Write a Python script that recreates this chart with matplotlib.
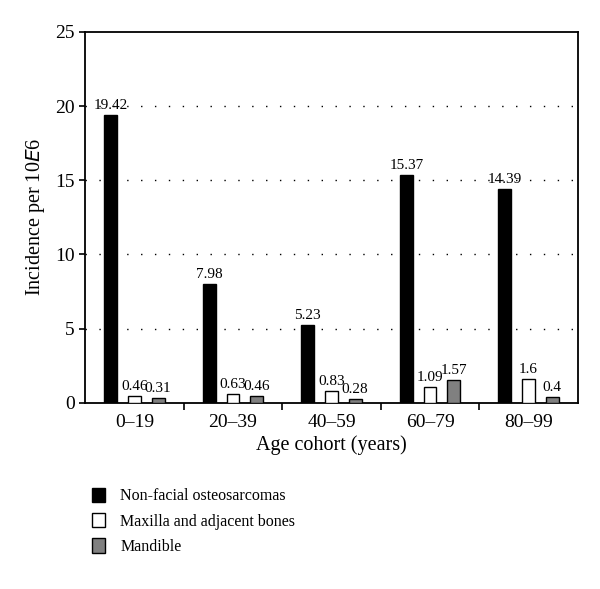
import matplotlib.pyplot as plt
import numpy as np
from matplotlib.patches import Patch

categories = ["0–19", "20–39", "40–59", "60–79", "80–99"]
series_names = ["Non-facial osteosarcomas", "Maxilla and adjacent bones", "Mandible"]
nonfacial = [19.42, 7.98, 5.23, 15.37, 14.39]
maxilla = [0.46, 0.63, 0.83, 1.09, 1.6]
mandible = [0.31, 0.46, 0.28, 1.57, 0.4]
value_labels = [
    ["19.42", "7.98", "5.23", "15.37", "14.39"],
    ["0.46", "0.63", "0.83", "1.09", "1.6"],
    ["0.31", "0.46", "0.28", "1.57", "0.4"],
]

plt.rcParams['font.family'] = ['Liberation Serif', 'DejaVu Serif']

fig = plt.figure(figsize=(6, 5.89), dpi=100)
ax = fig.add_axes([0.142, 0.316, 0.821, 0.630])

x = np.arange(len(categories))
colors = ["black", "white", "#808080"]
offsets = [-0.24, 0.0, 0.24]
w = 0.13
for vals, c, off, labs in zip([nonfacial, maxilla, mandible], colors, offsets, value_labels):
    bars = ax.bar(x + off, vals, width=w, color=c, edgecolor="black", linewidth=1.0, zorder=3)
    for b, lab in zip(bars, labs):
        ax.text(b.get_x() + b.get_width() / 2, b.get_height() + 0.2, lab,
                ha="center", va="bottom", fontsize=11)

ax.set_xlim(-0.5, len(categories) - 0.5)
ax.set_ylim(0, 25)
ax.set_yticks([0, 5, 10, 15, 20, 25])
ax.tick_params(axis='y', labelsize=14, direction='out', length=4, width=1.2)
for yv in [5, 10, 15, 20]:
    ax.axhline(yv, color="black", linestyle=(0, (1, 9)), linewidth=1.0, zorder=1)

ax.set_xticks(x)
ax.set_xticklabels(categories, fontsize=14)
ax.set_xticks(np.arange(0.5, len(categories) - 0.5, 1), minor=True)
ax.tick_params(axis='x', which='major', length=0, pad=8)
ax.tick_params(axis='x', which='minor', length=5, direction='out', width=1.2)

ax.set_xlabel("Age cohort (years)", fontsize=14.5, labelpad=3)
ax.set_ylabel("Incidence per 10$\\it{E}$6", fontsize=14.5, labelpad=6)
for s in ax.spines.values():
    s.set_linewidth(1.3)

handles = [Patch(facecolor=c, edgecolor="black", linewidth=1.0) for c in colors]
fig.legend(handles, series_names, loc="upper left", bbox_to_anchor=(0.143, 0.183),
           frameon=False, fontsize=11.5, handlelength=0.8, handleheight=1.0,
           handletextpad=0.95, labelspacing=0.55, borderaxespad=0)

fig.savefig("out.png", dpi=100)
